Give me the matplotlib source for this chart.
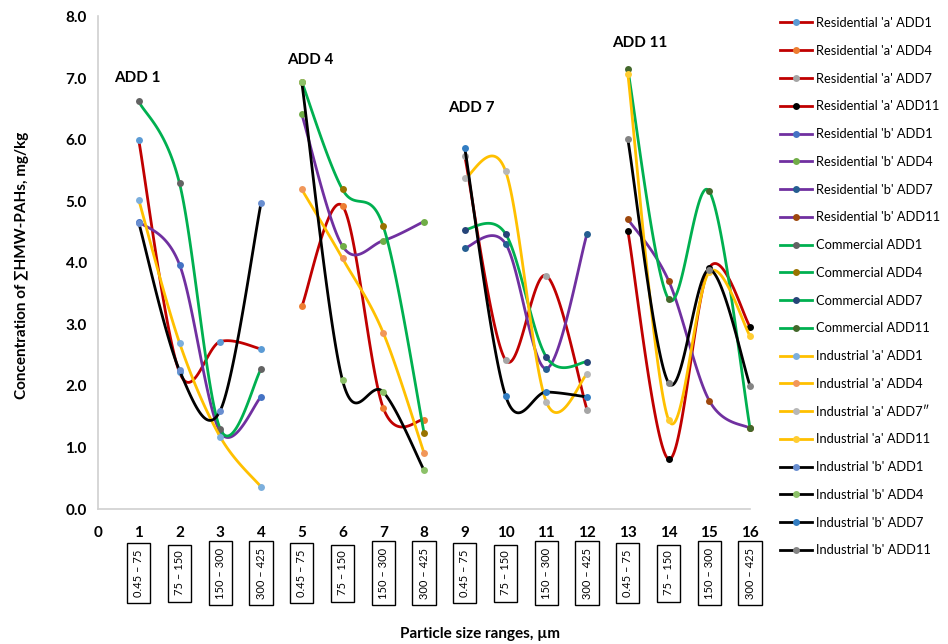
import numpy as np
import matplotlib
matplotlib.use('Agg')
import matplotlib.pyplot as plt
from matplotlib.lines import Line2D
import matplotlib.transforms as mtransforms

plt.rcParams['font.family'] = ['Lato', 'DejaVu Sans']

# x positions 1..16, four size fractions per ADD group
x_pos = np.arange(1, 17)
size_ranges = ['0.45 \u2013 75', '75 \u2013 150', '150 \u2013 300', '300 \u2013 425']
groups = ['ADD1', 'ADD4', 'ADD7', 'ADD11']
group_titles = ['ADD 1', 'ADD 4', 'ADD 7', 'ADD 11']

# sum HMW-PAHs (mg/kg), 16 values per site: ADD1 | ADD4 | ADD7 | ADD11
res_a = [5.99, 2.22, 2.72, 2.60,  3.29, 4.92, 1.64, 1.45,  5.73, 2.42, 3.79, 1.61,  4.52, 0.81, 3.92, 2.96]
res_b = [4.67, 3.97, 1.25, 1.82,  6.41, 4.27, 4.36, 4.67,  4.24, 4.31, 2.28, 4.47,  4.71, 3.71, 1.76, 1.31]
comm  = [6.62, 5.29, 1.30, 2.27,  6.94, 5.19, 4.59, 1.24,  4.54, 4.47, 2.47, 2.39,  7.14, 3.41, 5.16, 1.31]
ind_a = [5.02, 2.70, 1.17, 0.36,  5.19, 4.07, 2.86, 0.91,  5.37, 5.49, 1.74, 2.19,  7.07, 1.45, 3.85, 2.81]
ind_b = [4.65, 2.25, 1.60, 4.97,  6.93, 2.09, 1.90, 0.63,  5.86, 1.84, 1.90, 1.82,  6.01, 2.05, 3.89, 2.00]

sites = ["Residential 'a'", "Residential 'b'", "Commercial", "Industrial 'a'", "Industrial 'b'"]
site_values = [res_a, res_b, comm, ind_a, ind_b]
line_colors = ['#C00000', '#7030A0', '#00B050', '#FFC000', '#000000']
marker_colors = [
    ['#5B9BD5', '#ED7D31', '#A5A5A5', '#000000'],
    ['#4472C4', '#70AD47', '#255E91', '#9E480E'],
    ['#636363', '#997300', '#264478', '#43682B'],
    ['#7CAFDD', '#F1975A', '#B7B7B7', '#FFCD33'],
    ['#698ED0', '#8CC168', '#327DC2', '#848484'],
]


def smooth(x, y, n=40):
    # excel-like smoothed line (catmull-rom bezier)
    x = np.asarray(x, float)
    y = np.asarray(y, float)
    px = np.concatenate([[x[0]], x, [x[-1]]])
    py = np.concatenate([[y[0]], y, [y[-1]]])
    t = np.linspace(0, 1, n)
    xs, ys = [], []
    for i in range(1, len(px) - 2):
        p0 = np.array([px[i], py[i]])
        p3 = np.array([px[i + 1], py[i + 1]])
        c1 = p0 + (np.array([px[i + 1], py[i + 1]]) - np.array([px[i - 1], py[i - 1]])) / 6
        c2 = p3 - (np.array([px[i + 2], py[i + 2]]) - np.array([px[i], py[i]])) / 6
        b = ((1 - t) ** 3)[:, None] * p0 + (3 * (1 - t) ** 2 * t)[:, None] * c1 \
            + (3 * (1 - t) * t ** 2)[:, None] * c2 + (t ** 3)[:, None] * p3
        xs.append(b[:, 0])
        ys.append(b[:, 1])
    return np.concatenate(xs), np.concatenate(ys)


fig = plt.figure(figsize=(9.48, 6.44), dpi=100)
ax = fig.add_axes([0.1034, 0.2096, 0.6878, 0.7648])

handles = []
labels = []
z = 2
for s in range(len(sites)):
    vals = site_values[s]
    for g in range(4):
        xx = x_pos[g * 4:(g + 1) * 4]
        yy = vals[g * 4:(g + 1) * 4]
        sx, sy = smooth(xx, yy)
        ax.plot(sx, sy, color=line_colors[s], lw=2.0, zorder=z, clip_on=False,
                solid_capstyle='round')
        ax.plot(xx, yy, 'o', color=marker_colors[s][g], ms=5, mew=0, zorder=z + 0.5,
                clip_on=False)
        z += 1
        handles.append(Line2D([0], [0], color=line_colors[s], lw=2.0, marker='o',
                              ms=5, mfc=marker_colors[s][g], mec=marker_colors[s][g], mew=0))
        lab = sites[s] + ' ' + groups[g]
        if s == 3 and g == 2:
            lab += '\u2033'
        labels.append(lab)

ax.set_xlim(0, 16)
ax.set_ylim(0, 8)
ax.set_xticks(np.arange(0, 17))
ax.set_yticks(np.arange(0, 9))
ax.set_yticklabels(['%.1f' % v for v in np.arange(0, 9)])
ax.tick_params(length=0, labelsize=11, pad=8)
for lbl in ax.get_xticklabels() + ax.get_yticklabels():
    lbl.set_fontweight('bold')
ax.tick_params(axis='x', pad=12)
for sp in ['top', 'right']:
    ax.spines[sp].set_visible(False)
for sp in ['left', 'bottom']:
    ax.spines[sp].set_color('#D0D0D0')
    ax.spines[sp].set_linewidth(1.2)

# group titles
title_pos = [(0.96, 7.0), (5.2, 7.29), (9.15, 6.51), (13.3, 7.57)]
for t, (tx, ty) in zip(group_titles, title_pos):
    ax.text(tx, ty, t, fontsize=11, fontweight='bold', ha='center', va='center')

# boxed size range labels under the ticks
trans = mtransforms.blended_transform_factory(ax.transData, ax.transAxes)
for i, xv in enumerate(x_pos):
    ax.text(xv, -0.13, size_ranges[i % 4], transform=trans, rotation=90,
            ha='center', va='center', fontsize=8,
            bbox=dict(boxstyle='square,pad=0.55', fc='white', ec='black', lw=1.0))

fig.text(22 / 948, 1 - 265 / 644, 'Concentration of \u2211HMW-PAHs, mg/kg', rotation=90,
         ha='center', va='center', fontsize=11, fontweight='bold')
fig.text(480 / 948, 1 - 634 / 644, 'Particle size ranges, \u00b5m', ha='center', va='center',
         fontsize=11, fontweight='bold')

fig.legend(handles, labels, loc='upper left', bbox_to_anchor=(780 / 948, 1 - 17 / 644),
           bbox_transform=fig.transFigure, frameon=False, fontsize=9.3,
           handlelength=2.5, handletextpad=0.3, labelspacing=1.22,
           borderpad=0, borderaxespad=0, numpoints=1)

plt.savefig('out.png', dpi=100)
